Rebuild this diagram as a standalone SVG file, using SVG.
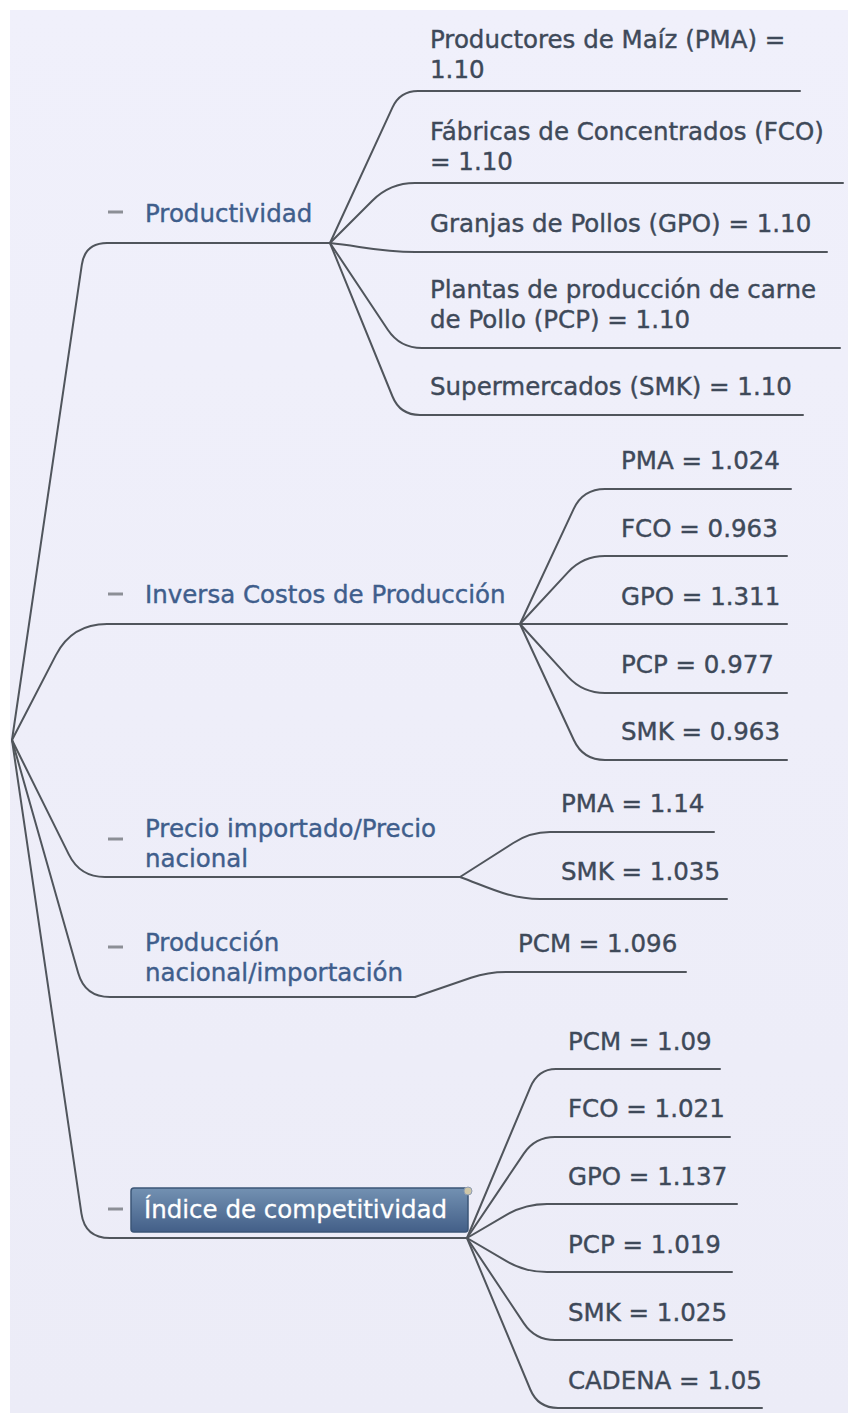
<svg xmlns="http://www.w3.org/2000/svg" width="848" height="1413" viewBox="0 0 848 1413">
  <defs>
    <linearGradient id="bg" x1="0" y1="0" x2="0" y2="1">
      <stop offset="0" stop-color="#F0F0FB"/>
      <stop offset="1" stop-color="#ECECF7"/>
    </linearGradient>
    <linearGradient id="boxg" x1="0" y1="0" x2="0" y2="1">
      <stop offset="0" stop-color="#7391B2"/>
      <stop offset="1" stop-color="#435F88"/>
    </linearGradient>
  </defs>
  <style>
    .ln { fill: none; stroke: #50555C; stroke-width: 2; stroke-linecap: round; }
    .br { font-family: "DejaVu Sans", Verdana, sans-serif; font-size: 24.5px; fill: #3F5E8C; stroke: #3F5E8C; stroke-width: 0.4px; }
    .lf { font-family: "DejaVu Sans", Verdana, sans-serif; font-size: 24.5px; fill: #3E4959; stroke: #3E4959; stroke-width: 0.4px; }
    .wt { font-family: "DejaVu Sans", Verdana, sans-serif; font-size: 24.5px; fill: #FFFFFF; stroke: #FFFFFF; stroke-width: 0.3px; }
    .dash { stroke: #8C8F96; stroke-width: 3; }
  </style>
  <rect x="0" y="0" width="848" height="1413" fill="#FFFFFF"/>
  <rect x="10" y="10" width="838" height="1403" fill="url(#bg)"/>

  <g id="connectors">
    <path class="ln" d="M12 740 L81.8 264.8 Q85 243 107 243 L330 243"/>
    <path class="ln" d="M12 740 L55.9 655.1 Q72 624 107 624 L520 624"/>
    <path class="ln" d="M12 740 L68.9 854.6 Q80 877 105 877 L460 877"/>
    <path class="ln" d="M12 740 L78.2 973 Q85 997 110 997 L415 997"/>
    <path class="ln" d="M12 740 L81.4 1213.3 Q85 1238 110 1238 L467 1238"/>
    <path class="ln" d="M330 243 L392.5 107.4 Q400 91 418 91 L800 91"/>
    <path class="ln" d="M330 243 L372.3 200.7 Q390 183 415 183 L843 183"/>
    <path class="ln" d="M330 243 C360 246 380 252 415 252 L827 252"/>
    <path class="ln" d="M330 243 L387.8 329.7 Q400 348 422 348 L840 348"/>
    <path class="ln" d="M330 243 L392.5 396.5 Q400 415 420 415 L803 415"/>
    <path class="ln" d="M520 624 L573.7 508.9 Q583 489 605 489 L791 489"/>
    <path class="ln" d="M520 624 L568.1 572.1 Q583 556 605 556 L787 556"/>
    <path class="ln" d="M520 624 L787 624"/>
    <path class="ln" d="M520 624 L568.1 676.9 Q583 693 605 693 L787 693"/>
    <path class="ln" d="M520 624 L573.8 740 Q583 760 605 760 L787 760"/>
    <path class="ln" d="M460 877 L513.3 843 Q530 832 550 832 L714 832"/>
    <path class="ln" d="M460 877 C490 888 510 899 540 899 L727 899"/>
    <path class="ln" d="M415 997 L471 977.8 Q488 972 506 972 L686 972"/>
    <path class="ln" d="M467 1238 L530.3 1087.4 Q538 1069 556 1069 L720 1069"/>
    <path class="ln" d="M467 1238 L523.8 1153.6 Q535 1137 555 1137 L730 1137"/>
    <path class="ln" d="M467 1238 L506 1215.1 Q525 1204 547 1204 L737 1204"/>
    <path class="ln" d="M467 1238 L506 1260.9 Q525 1272 547 1272 L732 1272"/>
    <path class="ln" d="M467 1238 L523.9 1323.4 Q535 1340 555 1340 L732 1340"/>
    <path class="ln" d="M467 1238 L530.3 1389.5 Q538 1408 558 1408 L762 1408"/>
  </g>

  <g id="productividad">
    <line class="dash" x1="108" y1="212" x2="123" y2="212"/>
    <text class="br" x="145" y="222">Productividad</text>
  </g>
  <g id="prod-pma"><text class="lf" x="430" y="48">Productores de Maíz (PMA) =</text><text class="lf" x="430" y="78">1.10</text></g>
  <g id="prod-fco"><text class="lf" x="430" y="140">Fábricas de Concentrados (FCO)</text><text class="lf" x="430" y="170">= 1.10</text></g>
  <g id="prod-gpo"><text class="lf" x="430" y="232">Granjas de Pollos (GPO) = 1.10</text></g>
  <g id="prod-pcp"><text class="lf" x="430" y="298">Plantas de producción de carne</text><text class="lf" x="430" y="328">de Pollo (PCP) = 1.10</text></g>
  <g id="prod-smk"><text class="lf" x="430" y="395">Supermercados (SMK) = 1.10</text></g>

  <g id="inversa">
    <line class="dash" x1="108" y1="594" x2="123" y2="594"/>
    <text class="br" x="145" y="603">Inversa Costos de Producción</text>
  </g>
  <g id="inv-pma"><text class="lf" x="621" y="469">PMA = 1.024</text></g>
  <g id="inv-fco"><text class="lf" x="621" y="537">FCO = 0.963</text></g>
  <g id="inv-gpo"><text class="lf" x="621" y="605">GPO = 1.311</text></g>
  <g id="inv-pcp"><text class="lf" x="621" y="673">PCP = 0.977</text></g>
  <g id="inv-smk"><text class="lf" x="621" y="740">SMK = 0.963</text></g>

  <g id="precio">
    <line class="dash" x1="108" y1="839" x2="123" y2="839"/>
    <text class="br" x="145" y="837">Precio importado/Precio</text>
    <text class="br" x="145" y="867">nacional</text>
  </g>
  <g id="pre-pma"><text class="lf" x="561" y="812">PMA = 1.14</text></g>
  <g id="pre-smk"><text class="lf" x="561" y="880">SMK = 1.035</text></g>

  <g id="produccion">
    <line class="dash" x1="108" y1="947" x2="123" y2="947"/>
    <text class="br" x="145" y="951">Producción</text>
    <text class="br" x="145" y="981">nacional/importación</text>
  </g>
  <g id="pro-pcm"><text class="lf" x="518" y="952">PCM = 1.096</text></g>

  <g id="indice">
    <line class="dash" x1="108" y1="1209" x2="123" y2="1209"/>
    <rect x="131" y="1188" width="337" height="44" rx="3" fill="url(#boxg)" stroke="#3B5577" stroke-width="1.5"/>
    <text class="wt" x="144" y="1218">Índice de competitividad</text>
    <circle cx="468" cy="1191" r="4" fill="#CFC7A8" stroke="#8F9DB2" stroke-width="1"/>
  </g>
  <g id="ind-pcm"><text class="lf" x="568" y="1050">PCM = 1.09</text></g>
  <g id="ind-fco"><text class="lf" x="568" y="1117">FCO = 1.021</text></g>
  <g id="ind-gpo"><text class="lf" x="568" y="1185">GPO = 1.137</text></g>
  <g id="ind-pcp"><text class="lf" x="568" y="1253">PCP = 1.019</text></g>
  <g id="ind-smk"><text class="lf" x="568" y="1321">SMK = 1.025</text></g>
  <g id="ind-cad"><text class="lf" x="568" y="1389">CADENA = 1.05</text></g>
</svg>
